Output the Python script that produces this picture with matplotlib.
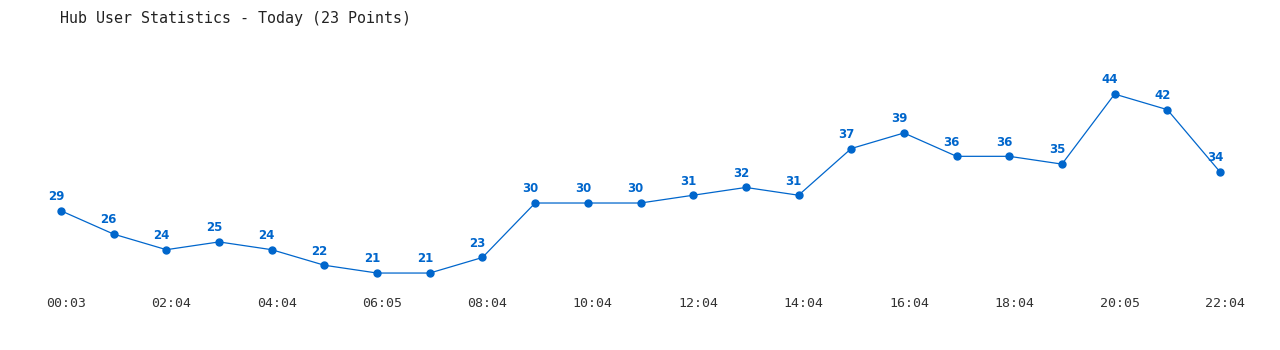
import matplotlib
matplotlib.use("Agg")
import matplotlib.pyplot as plt
import matplotlib.transforms as mtransforms

times = ["00:03", "01:04", "02:04", "03:04", "04:04", "05:04", "06:05", "07:04",
         "08:04", "09:04", "10:04", "11:04", "12:04", "13:04", "14:04", "15:04",
         "16:04", "17:04", "18:04", "19:04", "20:05", "21:04", "22:04"]
users = [29, 26, 24, 25, 24, 22, 21, 21, 23, 30, 30, 30, 31, 32, 31, 37, 39,
         36, 36, 35, 44, 42, 34]
title = "Hub User Statistics - Today (23 Points)"

blue = "#0066cc"
fig = plt.figure(figsize=(12.8, 3.5), dpi=100)
ax = fig.add_axes([61/1280, 60/350, (1220-61)/1280, 230/350])
x = list(range(len(users)))
ax.plot(x, users, color=blue, lw=0.9, marker="o", ms=5, mfc=blue, mec=blue,
        clip_on=False)
for xi, v in zip(x, users):
    ax.annotate(str(v), (xi, v), xytext=(-3.6, 5.5), textcoords="offset points",
                ha="center", va="bottom", color=blue, fontsize=8.5,
                fontweight="bold", family="DejaVu Sans")
ax.set_xlim(0, len(users) - 1)
ax.set_ylim(18.82, 48.38)
ax.set_xticks(x[::2])
ax.set_xticklabels(times[::2], family="DejaVu Sans Mono", fontsize=9.5, color="#333333")
ax.tick_params(axis="x", length=0, pad=5)
offset = mtransforms.ScaledTranslation(5/100, 0, fig.dpi_scale_trans)
for lab in ax.get_xticklabels():
    lab.set_transform(lab.get_transform() + offset)
ax.set_yticks([])
for s in ax.spines.values():
    s.set_visible(False)
ax.patch.set_alpha(0)
fig.text(60/1280, 1 - 18/350, title, family="DejaVu Sans Mono", fontsize=10.8,
         color="#222222", va="center", ha="left")
fig.savefig("out.png", dpi=100, facecolor="white")
